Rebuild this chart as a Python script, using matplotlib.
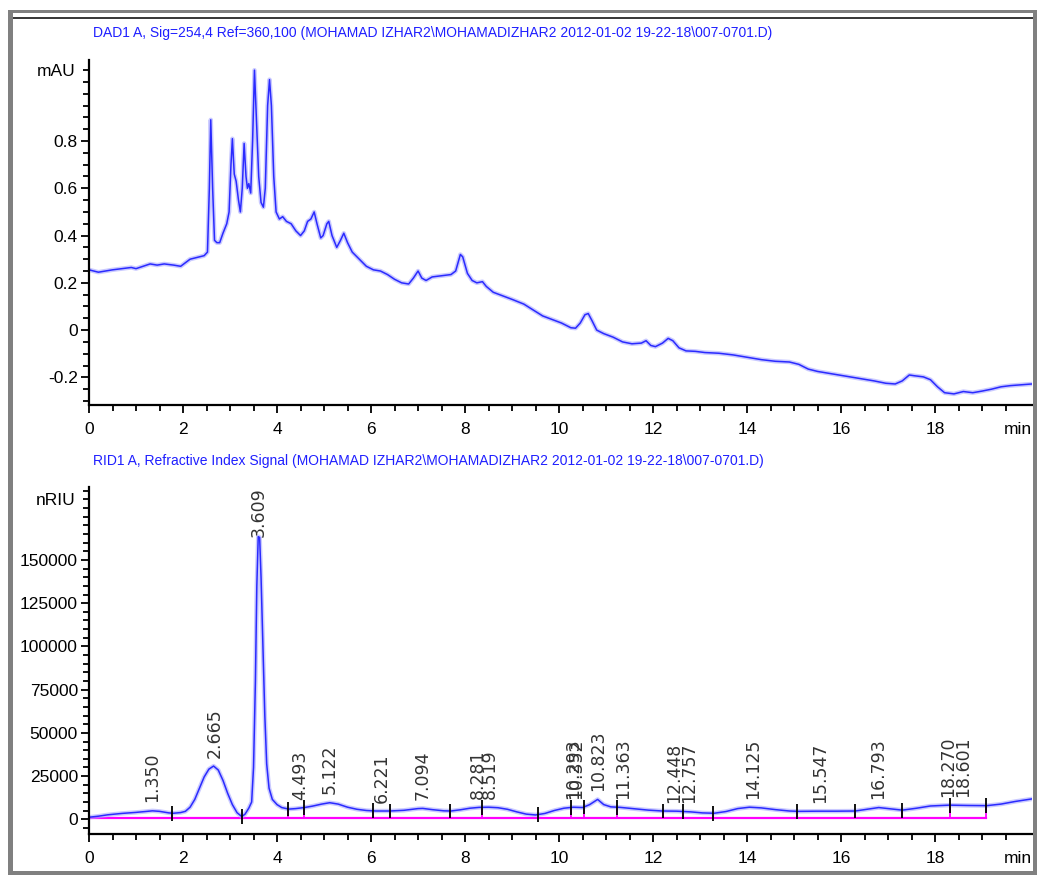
import numpy as np
import matplotlib.pyplot as plt
from matplotlib.patches import Rectangle
from matplotlib.ticker import MultipleLocator, FixedLocator

plt.rcParams['font.family'] = ['Liberation Sans Narrow', 'Liberation Sans', 'DejaVu Sans']

# DAD1 A, 254 nm trace: time (min) and absorbance (mAU)
dad_time = [
    0.00, 0.10, 0.20, 0.35, 0.50, 0.70, 0.90, 1.00, 1.15, 1.30, 1.45, 1.60, 1.80, 1.95,
    2.05, 2.15, 2.25, 2.35, 2.45, 2.52, 2.56, 2.59, 2.63, 2.67, 2.72, 2.78, 2.85, 2.93,
    2.98, 3.02, 3.05, 3.09, 3.13, 3.18, 3.22, 3.26, 3.30, 3.34, 3.37, 3.40, 3.44, 3.48,
    3.52, 3.56, 3.61, 3.66, 3.71, 3.75, 3.80, 3.84, 3.88, 3.93, 3.98, 4.05, 4.12, 4.20,
    4.30, 4.40, 4.50, 4.58, 4.65, 4.72, 4.79, 4.85, 4.93, 4.98, 5.06, 5.10, 5.17, 5.27,
    5.35, 5.42, 5.50, 5.60, 5.75, 5.90, 6.05, 6.20, 6.35, 6.50, 6.65, 6.80, 6.90, 7.00,
    7.08, 7.17, 7.30, 7.50, 7.70, 7.80, 7.90, 7.95, 8.05, 8.15, 8.25, 8.37, 8.45, 8.60,
    8.80, 9.00, 9.25, 9.45, 9.65, 9.85, 10.05, 10.25, 10.35, 10.45, 10.55, 10.62, 10.70,
    10.80, 10.95, 11.15, 11.35, 11.55, 11.75, 11.85, 11.95, 12.05, 12.20, 12.32, 12.42,
    12.55, 12.70, 12.90, 13.10, 13.40, 13.70, 14.00, 14.30, 14.60, 14.90, 15.10, 15.30,
    15.50, 15.80, 16.10, 16.40, 16.70, 16.95, 17.15, 17.30, 17.45, 17.55, 17.75, 17.90,
    18.05, 18.20, 18.40, 18.60, 18.80, 19.00, 19.20, 19.40, 19.60, 19.80, 20.06,
]
dad_signal = [
    0.255, 0.250, 0.245, 0.250, 0.255, 0.260, 0.265, 0.260, 0.270, 0.280, 0.275, 0.280, 0.275, 0.270,
    0.285, 0.300, 0.305, 0.310, 0.315, 0.330, 0.600, 0.890, 0.600, 0.380, 0.370, 0.370, 0.410, 0.450,
    0.500, 0.700, 0.810, 0.660, 0.630, 0.550, 0.500, 0.600, 0.790, 0.650, 0.600, 0.620, 0.580, 0.800,
    1.100, 0.900, 0.650, 0.540, 0.520, 0.600, 0.950, 1.060, 0.950, 0.650, 0.500, 0.470, 0.480, 0.460,
    0.450, 0.420, 0.400, 0.420, 0.460, 0.470, 0.500, 0.450, 0.390, 0.400, 0.450, 0.460, 0.400, 0.350,
    0.380, 0.410, 0.370, 0.330, 0.300, 0.270, 0.255, 0.250, 0.235, 0.215, 0.200, 0.195, 0.220, 0.250,
    0.220, 0.210, 0.225, 0.230, 0.235, 0.250, 0.320, 0.310, 0.240, 0.210, 0.200, 0.205, 0.185, 0.160,
    0.145, 0.130, 0.110, 0.085, 0.060, 0.045, 0.030, 0.010, 0.008, 0.030, 0.065, 0.070, 0.040,
    0.000, -0.015, -0.030, -0.050, -0.058, -0.055, -0.045, -0.065, -0.070, -0.055, -0.035, -0.045,
    -0.075, -0.088, -0.090, -0.095, -0.098, -0.105, -0.115, -0.125, -0.132, -0.135, -0.145, -0.165,
    -0.175, -0.185, -0.195, -0.205, -0.215, -0.225, -0.228, -0.215, -0.190, -0.193, -0.198, -0.210,
    -0.240, -0.265, -0.270, -0.260, -0.265, -0.258, -0.250, -0.240, -0.235, -0.232, -0.228,
]

# RID1 A refractive index trace: time (min) and signal (nRIU)
rid_time = [
    0.00, 0.20, 0.40, 0.70, 1.00, 1.20, 1.35, 1.50, 1.70, 1.80, 1.95, 2.05, 2.15, 2.25,
    2.35, 2.45, 2.55, 2.65, 2.75, 2.85, 2.95, 3.05, 3.15, 3.25, 3.32, 3.40, 3.46, 3.50,
    3.54, 3.57, 3.60, 3.63, 3.66, 3.70, 3.74, 3.78, 3.83, 3.90, 4.00, 4.10, 4.25, 4.40,
    4.58, 4.75, 4.95, 5.12, 5.30, 5.50, 5.70, 5.90, 6.10, 6.40, 6.70, 7.00, 7.10, 7.30,
    7.55, 7.70, 7.90, 8.10, 8.30, 8.50, 8.70, 8.90, 9.10, 9.30, 9.50, 9.70, 9.90, 10.10,
    10.30, 10.50, 10.65, 10.82, 10.95, 11.10, 11.30, 11.60, 11.90, 12.20, 12.50, 12.80,
    13.05, 13.30, 13.55, 13.80, 14.05, 14.30, 14.60, 14.90, 15.10, 15.50, 15.90, 16.30,
    16.55, 16.80, 17.00, 17.30, 17.60, 17.90, 18.30, 18.70, 19.10, 19.40, 19.70, 20.06,
]
rid_signal = [
    1200, 1800, 2600, 3400, 4000, 4500, 4900, 4600, 3700, 3500, 3900, 4600, 7000, 11500,
    18000, 24500, 29000, 30800, 28500, 22500, 15000, 8500, 3800, 1600, 3000, 6500, 10000, 30000,
    80000, 135000, 163500, 163000, 140000, 100000, 60000, 32000, 18000, 11500, 8500, 6800, 5900, 6200,
    6800, 7600, 8800, 9600, 8800, 7000, 5800, 5100, 4800, 4800, 5200, 6200, 6300, 5600,
    4900, 4800, 5500, 6400, 6900, 7000, 6700, 5800, 4300, 3000, 2500, 3400, 5100, 6400,
    7000, 6800, 8500, 11500, 8500, 7200, 6900, 6100, 5300, 4800, 4700, 4300,
    3700, 3500, 4500, 6200, 7000, 6600, 5600, 4800, 4600, 4700, 4700, 4800,
    5800, 6800, 6200, 5300, 6400, 7700, 8200, 8000, 7900, 8800, 10300, 11800,
]

# integration results: retention times and peak start/end events
peak_times = [1.350, 2.665, 3.609, 4.493, 5.122, 6.221, 7.094, 8.281, 8.519, 10.293,
              10.352, 10.823, 11.363, 12.448, 12.757, 14.125, 15.547, 16.793, 18.270, 18.601]
boundaries = [1.77, 3.26, 4.24, 4.58, 6.04, 6.40, 7.69, 8.35, 9.55, 10.26, 10.53, 11.24,
              12.21, 12.64, 13.27, 15.07, 16.29, 17.29, 18.31, 19.08]
baseline_level = 500

dad_title = r"DAD1 A, Sig=254,4 Ref=360,100 (MOHAMAD IZHAR2\MOHAMADIZHAR2 2012-01-02 19-22-18\007-0701.D)"
rid_title = r"RID1 A, Refractive Index Signal (MOHAMAD IZHAR2\MOHAMADIZHAR2 2012-01-02 19-22-18\007-0701.D)"

TRACE = "#2a2aff"
HALO = "#a8a8ff"
TITLE = "#1f1fff"
MAGENTA = "#ff00ff"
W, H = 1037, 875


def style_axis(ax):
    for side in ("top", "right"):
        ax.spines[side].set_visible(False)
    for side in ("left", "bottom"):
        ax.spines[side].set_linewidth(1.6)
    ax.set_xlim(0, 20.06)
    ax.xaxis.set_major_locator(FixedLocator(np.arange(0, 19, 2)))
    ax.xaxis.set_minor_locator(FixedLocator(np.arange(0, 20, 0.5)))
    ax.tick_params(which="major", direction="out", length=6, width=1.3, labelsize=12.5)
    ax.tick_params(which="minor", direction="out", length=4, width=1.3)
    ax.tick_params(axis="x", which="major", pad=6)
    ax.tick_params(axis="y", which="major", pad=2)
    ax.annotate("min", xy=(1, 0), xycoords="axes fraction", xytext=(0, -12),
                textcoords="offset points", ha="right", va="top", fontsize=12.5)


fig = plt.figure(figsize=(W / 100, H / 100), dpi=100)
ax1 = fig.add_axes([89 / W, 1 - 405 / H, 943 / W, 345 / H])
ax2 = fig.add_axes([89 / W, 1 - 834 / H, 943 / W, 347 / H])

# upper panel: UV absorbance
style_axis(ax1)
ax1.plot(dad_time, dad_signal, color=HALO, lw=3.2, alpha=0.6, solid_joinstyle="round")
ax1.plot(dad_time, dad_signal, color=TRACE, lw=1.1)
ax1.set_ylim(-0.317, 1.143)
ax1.yaxis.set_major_locator(FixedLocator([-0.2, 0, 0.2, 0.4, 0.6, 0.8]))
ax1.yaxis.set_minor_locator(MultipleLocator(0.05))
ax1.yaxis.set_major_formatter(plt.FuncFormatter(lambda v, p: f"{v:g}"))
ax1.text(-0.014, 0.967, "mAU", transform=ax1.transAxes, ha="right", va="center", fontsize=12.5)
ax1.text(0.004, 1.078, dad_title, transform=ax1.transAxes, ha="left", va="center",
         fontsize=10, color=TITLE)

# lower panel: refractive index with integration marks
style_axis(ax2)
ax2.set_ylim(-8500, 192200)
ax2.yaxis.set_major_locator(FixedLocator([0, 25000, 50000, 75000, 100000, 125000, 150000]))
ax2.yaxis.set_minor_locator(MultipleLocator(5000))
ax2.text(-0.014, 0.9625, "nRIU", transform=ax2.transAxes, ha="right", va="center", fontsize=12.5)
ax2.text(0.004, 1.075, rid_title, transform=ax2.transAxes, ha="left", va="center",
         fontsize=10, color=TITLE)

edge_sig = np.interp(boundaries, rid_time, rid_signal)
ax2.vlines(boundaries, baseline_level, edge_sig, color=MAGENTA, lw=1.3)
ax2.plot([0, boundaries[-1]], [baseline_level, baseline_level], color=MAGENTA, lw=1.6)
ax2.plot(rid_time, rid_signal, color=HALO, lw=3.2, alpha=0.6, solid_joinstyle="round")
ax2.plot(rid_time, rid_signal, color=TRACE, lw=1.1)
ax2.vlines(boundaries, edge_sig - 4300, edge_sig + 4300, color="black", lw=1.3)

ymax = ax2.get_ylim()[1]
peak_sig = np.interp(peak_times, rid_time, rid_signal)
for t, s in zip(peak_times, peak_sig):
    if s > 0.75 * ymax:
        ax2.text(t, ymax, f"{t:.3f}", rotation=90, ha="center", va="top",
                 fontsize=12.5, family="DejaVu Sans", color="#333333")
    else:
        ax2.annotate(f"{t:.3f}", xy=(t, s), xytext=(0, 6), textcoords="offset points",
                     rotation=90, ha="center", va="bottom", fontsize=12.5,
                     family="DejaVu Sans", color="#333333")

# window frame around the report
def px_rect(x0, y0, x1, y1, color):
    fig.add_artist(Rectangle((x0 / W, 1 - y1 / H), (x1 - x0) / W, (y1 - y0) / H,
                             transform=fig.transFigure, color=color, lw=0))

px_rect(8, 10, 13, 875, "#808080")
px_rect(8, 10, 1037, 13, "#808080")
px_rect(1033, 10, 1037, 875, "#808080")
px_rect(8, 871, 1037, 875, "#808080")
px_rect(13, 17, 1033, 19, "#3a3a3a")

fig.savefig("out.png", dpi=100)
